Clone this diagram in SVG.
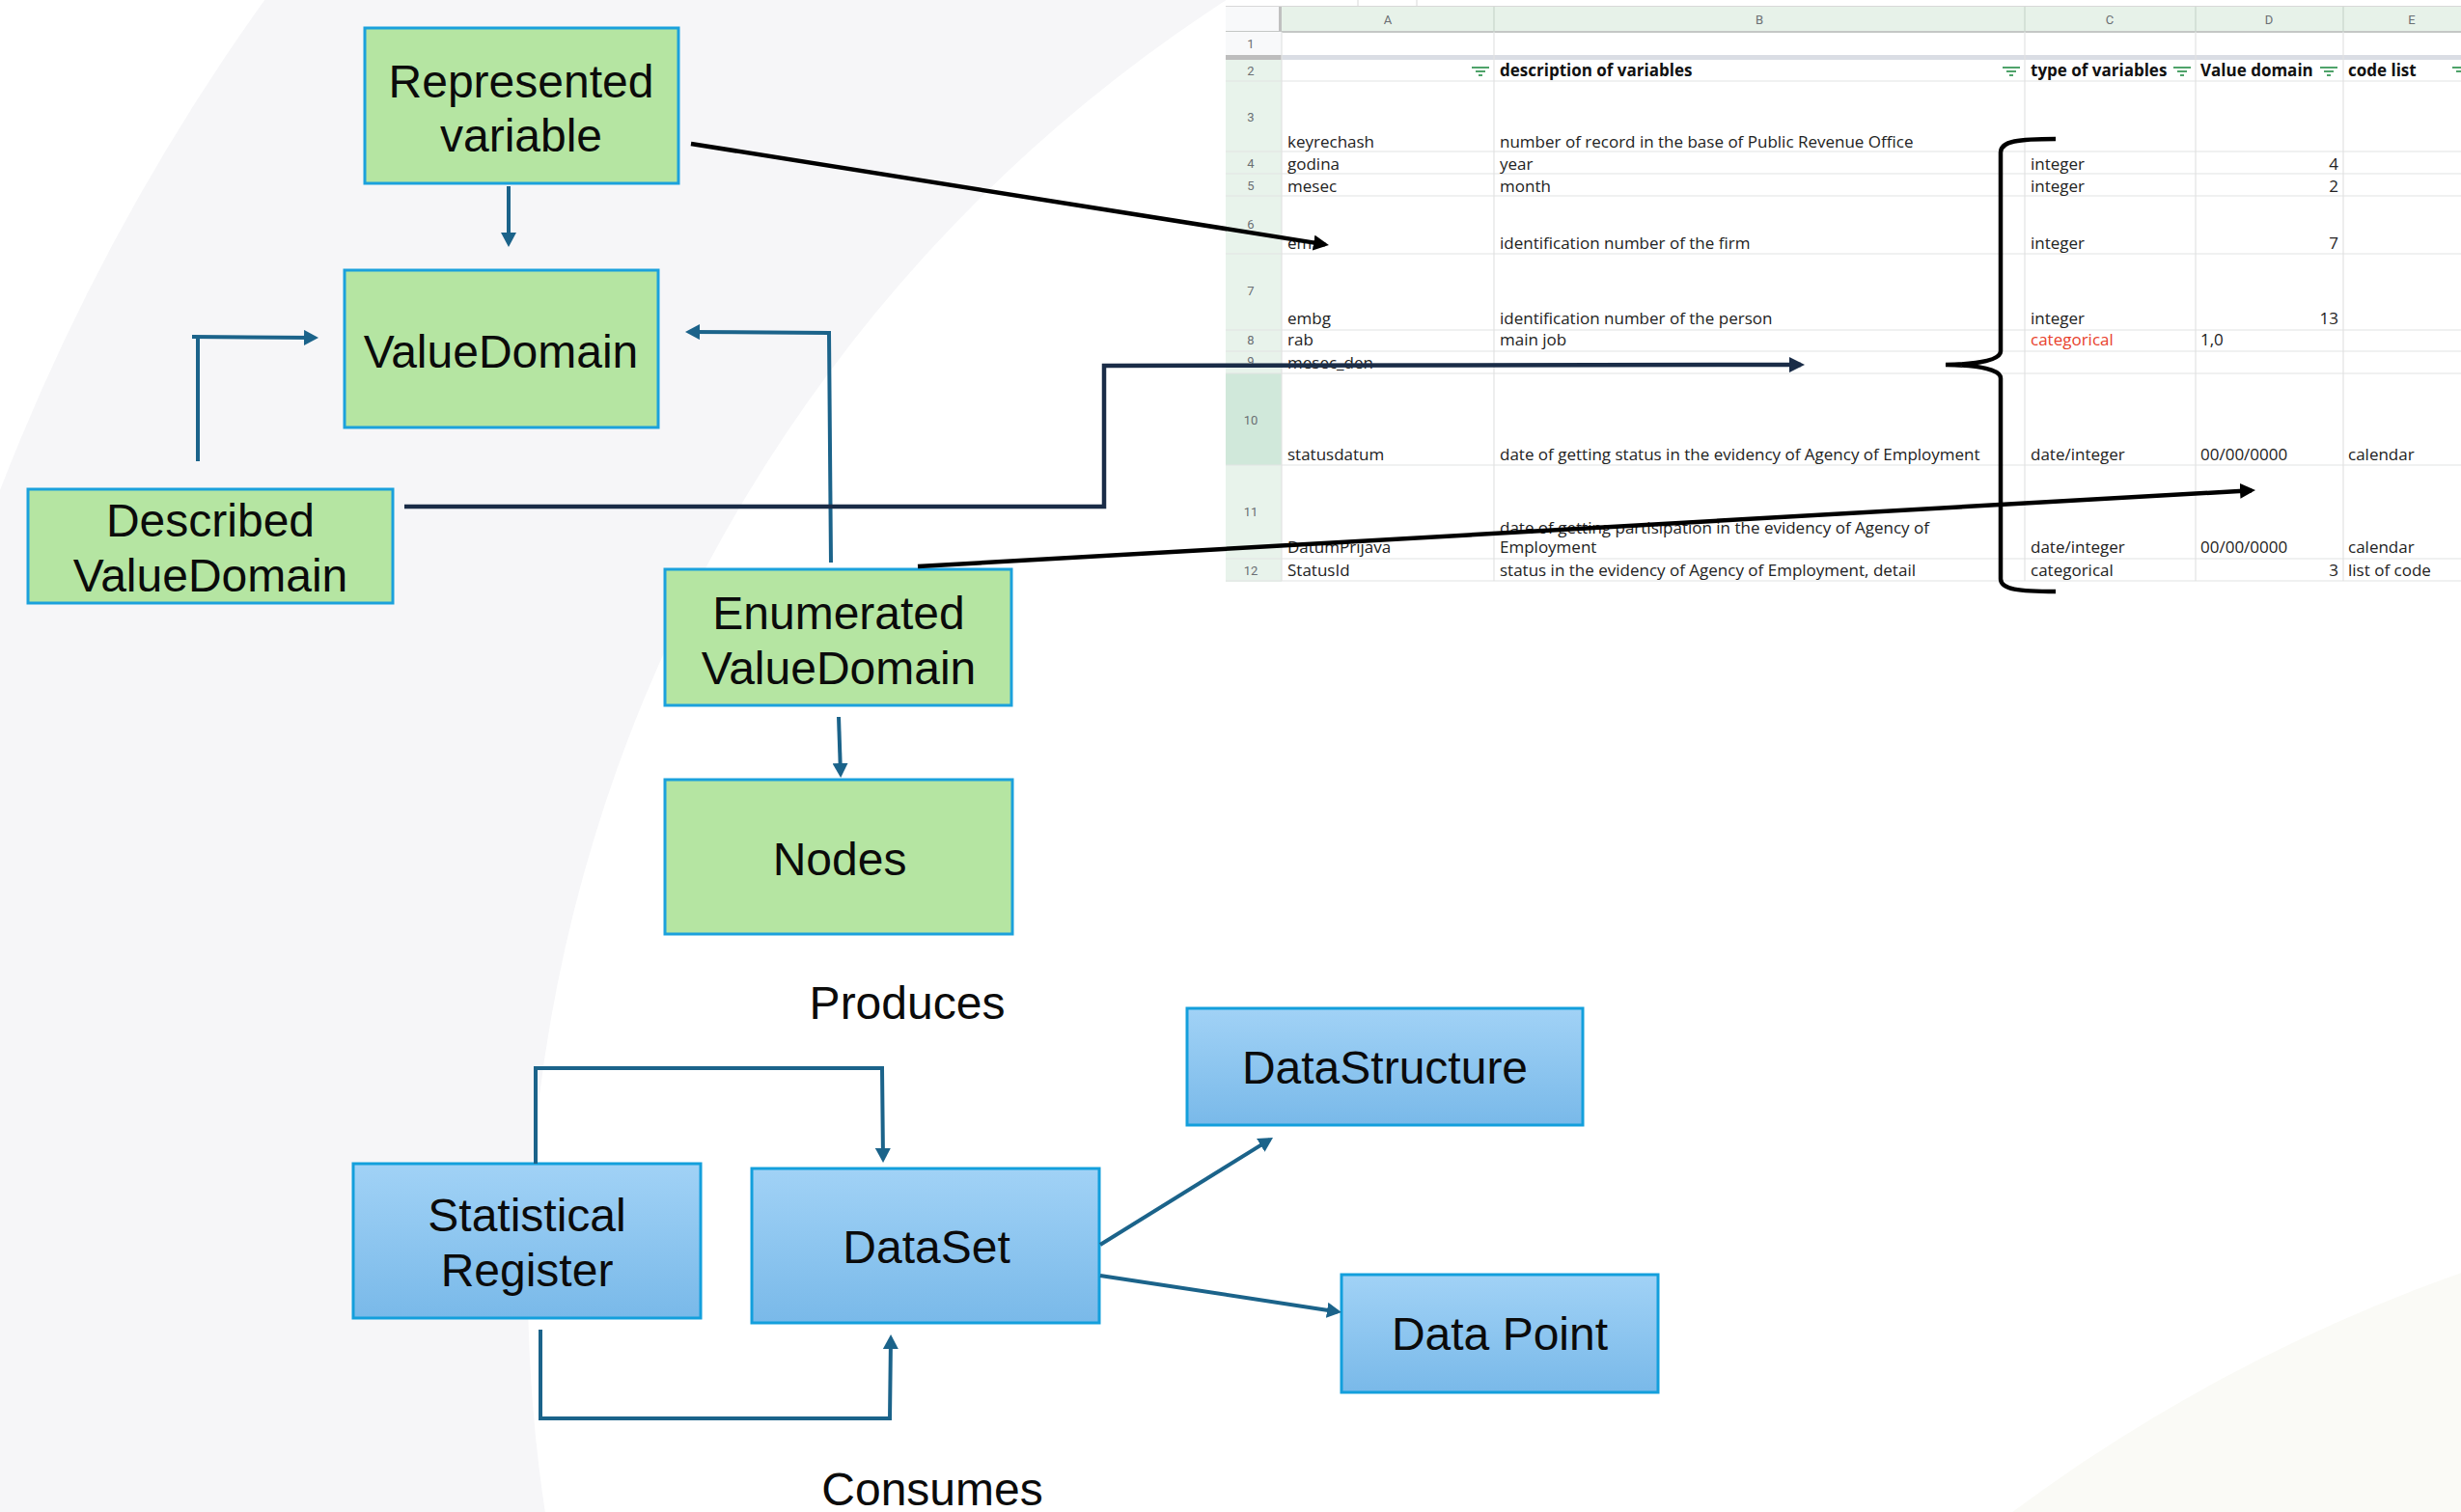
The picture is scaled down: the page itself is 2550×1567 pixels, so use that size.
<svg xmlns="http://www.w3.org/2000/svg" width="2550" height="1567" viewBox="0 0 2550 1567">
<defs>
<linearGradient id="gBlue" x1="0" y1="0" x2="0" y2="1">
<stop offset="0" stop-color="#a1d2f6"/>
<stop offset="1" stop-color="#79b9e9"/>
</linearGradient>
<marker id="mBlue" viewBox="0 0 16 16" refX="11" refY="8" markerWidth="16" markerHeight="16" orient="auto" markerUnits="userSpaceOnUse"><path d="M0,0 L15,8 L0,16 z" fill="#1b638a"/></marker>
<marker id="mBlack" viewBox="0 0 16 16" refX="12" refY="8" markerWidth="16" markerHeight="16" orient="auto" markerUnits="userSpaceOnUse"><path d="M0,0 L16,8 L0,16 z" fill="#000"/></marker>
<marker id="mNavy" viewBox="0 0 16 16" refX="12" refY="8" markerWidth="16" markerHeight="16" orient="auto" markerUnits="userSpaceOnUse"><path d="M0,0 L16,8 L0,16 z" fill="#1a2c47"/></marker>
<style>
.green{fill:#b5e5a2;stroke:#1ba1dc;stroke-width:3}
.blue{fill:url(#gBlue);stroke:#139fdc;stroke-width:3}
.nt{font-family:"Liberation Sans",Arial,sans-serif;font-size:48px;fill:#0b0b0b;text-anchor:middle}
.bl{fill:none;stroke:#1b638a;stroke-width:4}
.bk{fill:none;stroke:#000;stroke-width:4.5}
.nv{fill:none;stroke:#1a2c47;stroke-width:4.5}
.c{font-family:"Open Sans","Noto Sans",sans-serif;font-size:17px;fill:#222}
.h{font-family:"Open Sans","Noto Sans",sans-serif;font-size:17px;font-weight:bold;fill:#111}
.rn{font-family:"Roboto","Noto Sans",sans-serif;font-size:13px;fill:#6b6f73;text-anchor:middle}
.grid{stroke:#e2e3e3;stroke-width:1.2}
.flt{stroke:#4fa36a;stroke-width:2}
</style>
</defs>

<!-- background -->
<rect width="2550" height="1567" fill="#ffffff"/>
<circle cx="2131" cy="1330" r="2284" fill="#f6f6f8"/>
<circle cx="2131" cy="1330" r="1584" fill="#ffffff"/>
<circle cx="3135" cy="2976" r="1757" fill="#fafaf6"/>

<!-- spreadsheet -->
<g id="spreadsheet">
<rect x="1270" y="0" width="1280" height="603" fill="#ffffff"/>
<line x1="1270" y1="6.5" x2="2550" y2="6.5" stroke="#d8d8d8" stroke-width="1"/>
<line x1="1407" y1="0" x2="1407" y2="6" stroke="#d8d8d8" stroke-width="1"/>
<line x1="1468" y1="0" x2="1468" y2="6" stroke="#d8d8d8" stroke-width="1"/>
<!-- header row -->
<rect x="1270" y="7" width="58" height="26" fill="#f8f9fa"/>
<rect x="1328" y="7" width="1222" height="26" fill="#e7f2e9"/>
<rect x="1325" y="7" width="3" height="26" fill="#c0c0c0"/>
<line x1="1270" y1="33" x2="2550" y2="33" stroke="#c4c7c5" stroke-width="2"/>
<g stroke="#c9d6cc" stroke-width="1.2">
<line x1="1548" y1="7" x2="1548" y2="33"/><line x1="2098" y1="7" x2="2098" y2="33"/><line x1="2275" y1="7" x2="2275" y2="33"/><line x1="2428" y1="7" x2="2428" y2="33"/>
</g>
<text class="rn" x="1438" y="25">A</text>
<text class="rn" x="1823" y="25">B</text>
<text class="rn" x="2186" y="25">C</text>
<text class="rn" x="2351" y="25">D</text>
<text class="rn" x="2499" y="25">E</text>
<!-- row number column -->
<rect x="1270" y="33" width="58" height="24" fill="#f8f9fa"/>
<rect x="1270" y="62" width="58" height="541" fill="#e8f3eb"/>
<rect x="1270" y="387" width="58" height="95" fill="#d0e8da"/>
<!-- frozen separator -->
<rect x="1328" y="57" width="1222" height="5" fill="#dadde4"/>
<rect x="1270" y="57" width="58" height="5" fill="#bdbdbd"/>
<!-- grid -->
<g class="grid">
<line x1="1270" y1="84" x2="2550" y2="84"/>
<line x1="1270" y1="157" x2="2550" y2="157"/>
<line x1="1270" y1="180" x2="2550" y2="180"/>
<line x1="1270" y1="203" x2="2550" y2="203"/>
<line x1="1270" y1="263" x2="2550" y2="263"/>
<line x1="1270" y1="342" x2="2550" y2="342"/>
<line x1="1270" y1="364" x2="2550" y2="364"/>
<line x1="1270" y1="387" x2="2550" y2="387"/>
<line x1="1270" y1="482" x2="2550" y2="482"/>
<line x1="1270" y1="579" x2="2550" y2="579"/>
<line x1="1270" y1="602" x2="2550" y2="602"/>
<line x1="1328" y1="33" x2="1328" y2="602"/>
<line x1="1548" y1="33" x2="1548" y2="602"/>
<line x1="2098" y1="33" x2="2098" y2="602"/>
<line x1="2275" y1="33" x2="2275" y2="602"/>
<line x1="2428" y1="33" x2="2428" y2="602"/>
</g>
<!-- row numbers -->
<text class="rn" x="1296" y="50">1</text>
<text class="rn" x="1296" y="78">2</text>
<text class="rn" x="1296" y="126">3</text>
<text class="rn" x="1296" y="174">4</text>
<text class="rn" x="1296" y="197">5</text>
<text class="rn" x="1296" y="237">6</text>
<text class="rn" x="1296" y="306">7</text>
<text class="rn" x="1296" y="357">8</text>
<text class="rn" x="1296" y="379">9</text>
<text class="rn" x="1296" y="440">10</text>
<text class="rn" x="1296" y="535">11</text>
<text class="rn" x="1296" y="596">12</text>
<!-- filter icons -->
<g class="flt">
<line x1="1525" y1="70" x2="1543" y2="70"/><line x1="1529" y1="74" x2="1539" y2="74"/><line x1="1532" y1="78" x2="1536" y2="78"/>
<line x1="2075" y1="70" x2="2093" y2="70"/><line x1="2079" y1="74" x2="2089" y2="74"/><line x1="2082" y1="78" x2="2086" y2="78"/>
<line x1="2252" y1="70" x2="2270" y2="70"/><line x1="2256" y1="74" x2="2266" y2="74"/><line x1="2259" y1="78" x2="2263" y2="78"/>
<line x1="2404" y1="70" x2="2422" y2="70"/><line x1="2408" y1="74" x2="2418" y2="74"/><line x1="2411" y1="78" x2="2415" y2="78"/>
<line x1="2541" y1="70" x2="2550" y2="70"/><line x1="2545" y1="74" x2="2550" y2="74"/>
</g>
<!-- header texts -->
<text class="h" x="1554" y="79">description of variables</text>
<text class="h" x="2104" y="79">type of variables</text>
<text class="h" x="2280" y="79">Value domain</text>
<text class="h" x="2433" y="79">code list</text>
<!-- column A -->
<text class="c" x="1334" y="153">keyrechash</text>
<text class="c" x="1334" y="176">godina</text>
<text class="c" x="1334" y="199">mesec</text>
<text class="c" x="1334" y="258">em</text>
<text class="c" x="1334" y="336">embg</text>
<text class="c" x="1334" y="358">rab</text>
<text class="c" x="1334" y="382">mesec_den</text>
<text class="c" x="1334" y="477">statusdatum</text>
<text class="c" x="1334" y="573">DatumPrijava</text>
<text class="c" x="1334" y="597">StatusId</text>
<!-- column B -->
<text class="c" x="1554" y="153">number of record in the base of Public Revenue Office</text>
<text class="c" x="1554" y="176">year</text>
<text class="c" x="1554" y="199">month</text>
<text class="c" x="1554" y="258">identification number of the firm</text>
<text class="c" x="1554" y="336">identification number of the person</text>
<text class="c" x="1554" y="358">main job</text>
<text class="c" x="1554" y="477">date of getting status in the evidency of Agency of Employment</text>
<text class="c" x="1554" y="553">date of getting partisipation in the evidency of Agency of</text>
<text class="c" x="1554" y="573">Employment</text>
<text class="c" x="1554" y="597">status in the evidency of Agency of Employment, detail</text>
<!-- column C -->
<text class="c" x="2104" y="176">integer</text>
<text class="c" x="2104" y="199">integer</text>
<text class="c" x="2104" y="258">integer</text>
<text class="c" x="2104" y="336">integer</text>
<text class="c" x="2104" y="358" fill="#e8412c" style="fill:#e8412c">categorical</text>
<text class="c" x="2104" y="477">date/integer</text>
<text class="c" x="2104" y="573">date/integer</text>
<text class="c" x="2104" y="597">categorical</text>
<!-- column D -->
<text class="c" x="2423" y="176" text-anchor="end">4</text>
<text class="c" x="2423" y="199" text-anchor="end">2</text>
<text class="c" x="2423" y="258" text-anchor="end">7</text>
<text class="c" x="2423" y="336" text-anchor="end">13</text>
<text class="c" x="2280" y="358">1,0</text>
<text class="c" x="2280" y="477">00/00/0000</text>
<text class="c" x="2280" y="573">00/00/0000</text>
<text class="c" x="2423" y="597" text-anchor="end">3</text>
<!-- column E -->
<text class="c" x="2433" y="477">calendar</text>
<text class="c" x="2433" y="573">calendar</text>
<text class="c" x="2433" y="597">list of code</text>
</g>

<!-- brace -->
<path id="brace" d="M2130,144 C2092,144 2073,146 2073,158 L2073,364 Q2073,377 2016,378 Q2073,379 2073,392 L2073,600 C2073,611 2092,613 2130,613" fill="none" stroke="#000" stroke-width="4.5"/>

<!-- nodes -->
<g id="represented-variable">
<rect class="green" x="378" y="29" width="325" height="161"/>
<text class="nt" x="540" y="101">Represented</text>
<text class="nt" x="540" y="157">variable</text>
</g>
<g id="value-domain">
<rect class="green" x="357" y="280" width="325" height="163"/>
<text class="nt" x="519" y="381">ValueDomain</text>
</g>
<g id="described-value-domain">
<rect class="green" x="29" y="507" width="378" height="118"/>
<text class="nt" x="218" y="556">Described</text>
<text class="nt" x="218" y="613">ValueDomain</text>
</g>
<g id="enumerated-value-domain">
<rect class="green" x="689" y="590" width="359" height="141"/>
<text class="nt" x="869" y="652">Enumerated</text>
<text class="nt" x="869" y="709">ValueDomain</text>
</g>
<g id="nodes">
<rect class="green" x="689" y="808" width="360" height="160"/>
<text class="nt" x="870" y="907">Nodes</text>
</g>
<g id="produces-label">
<text class="nt" x="940" y="1056">Produces</text>
</g>
<g id="data-structure">
<rect class="blue" x="1230" y="1045" width="410" height="121"/>
<text class="nt" x="1435" y="1123">DataStructure</text>
</g>
<g id="statistical-register">
<rect class="blue" x="366" y="1206" width="360" height="160"/>
<text class="nt" x="546" y="1276">Statistical</text>
<text class="nt" x="546" y="1333">Register</text>
</g>
<g id="dataset">
<rect class="blue" x="779" y="1211" width="360" height="160"/>
<text class="nt" x="960" y="1309">DataSet</text>
</g>
<g id="data-point">
<rect class="blue" x="1390" y="1321" width="328" height="122"/>
<text class="nt" x="1554" y="1399">Data Point</text>
</g>
<g id="consumes-label">
<text class="nt" x="966" y="1560">Consumes</text>
</g>

<!-- connectors -->
<g id="connectors">
<path class="bl" d="M527,193 L527,252" marker-end="url(#mBlue)"/>
<path class="bl" d="M205,478 L205,349"/>
<path class="bl" d="M199,349 L326,350" marker-end="url(#mBlue)"/>
<path class="bl" d="M861,583 L859,345 L714,344" marker-end="url(#mBlue)"/>
<path class="bl" d="M869,743 L871,802" marker-end="url(#mBlue)"/>
<path class="bl" d="M555,1206 L555,1107 L914,1107 L915,1201" marker-end="url(#mBlue)"/>
<path class="bl" d="M560,1378 L560,1470 L922,1470 L923,1387" marker-end="url(#mBlue)"/>
<path class="bl" d="M1140,1290 L1315.6,1181.1" marker-end="url(#mBlue)"/>
<path class="bl" d="M1140,1322 L1386,1359.4" marker-end="url(#mBlue)"/>
<path class="bk" d="M716,149 L1373,253.4" marker-end="url(#mBlack)"/>
<path class="nv" d="M419,525 L1144,525 L1144,379 L1866,378" marker-end="url(#mNavy)"/>
<path class="bk" d="M951,587 L2333,508.2" marker-end="url(#mBlack)"/>
</g>
</svg>
